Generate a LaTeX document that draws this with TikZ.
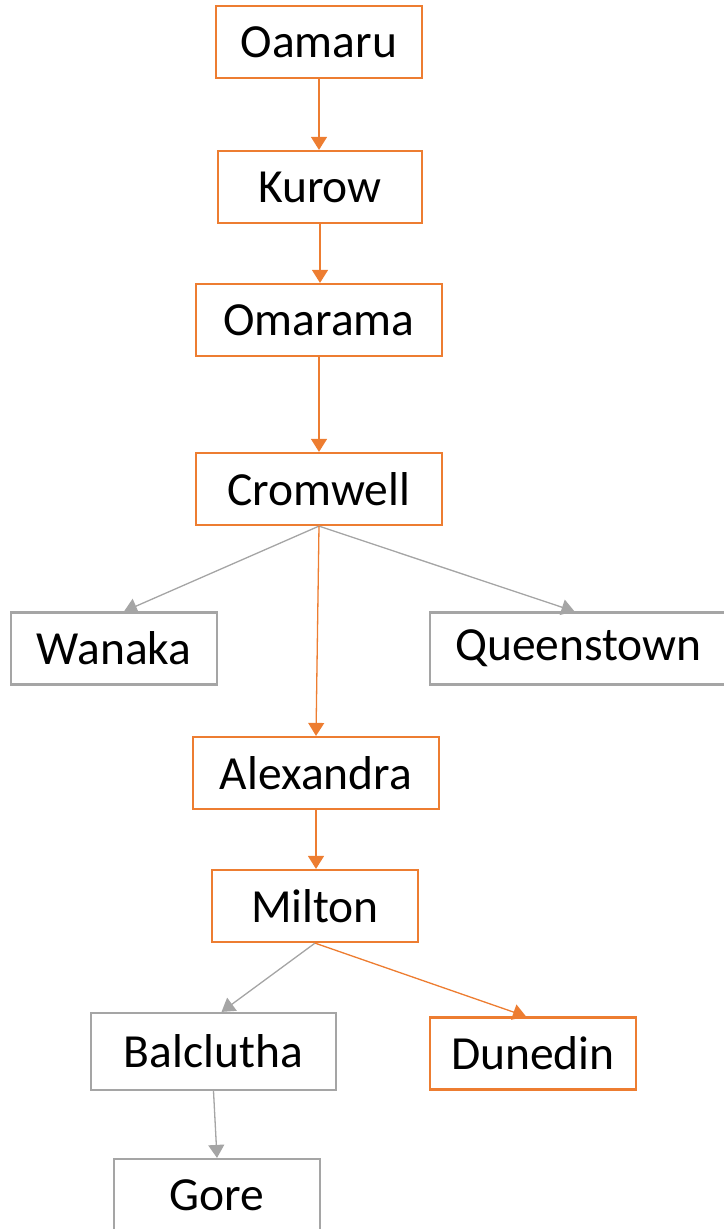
\documentclass[tikz,border=0pt]{standalone}
\usepackage{fontspec}
\setmainfont{Carlito}
\usetikzlibrary{arrows.meta,calc}
\definecolor{route}{HTML}{ED7D31}
\definecolor{side}{HTML}{A5A5A5}
\begin{document}
\begin{tikzpicture}[x=1pt,y=-1pt,
  town/.style={draw, line width=2.2pt, fill=white, inner sep=0pt,
    minimum height=72pt, font=\fontsize{47.5}{50}\selectfont},
  onroute/.style={town, draw=route},
  offroute/.style={town, draw=side},
  link/.style={line width=1.3pt, -{Triangle[width=16pt,length=13pt]}},
  mainlink/.style={link, draw=route, fill=route},
  sidelink/.style={link, draw=side, fill=side}]
\useasboundingbox (0,0) rectangle (723,1229);
% towns along the route
\node[onroute, minimum width=206pt] (oam) at (319,42) {Oamaru};
\node[onroute, minimum width=204pt] (kur) at (320,187) {Kurow};
\node[onroute, minimum width=246pt] (oma) at (319,320) {Omarama};
\node[onroute, minimum width=246pt] (cro) at (319,489) {Cromwell};
\node[onroute, minimum width=246pt] (ale) at (316,773) {Alexandra};
\node[onroute, minimum width=206pt] (mil) at (315,906) {Milton};
\node[onroute, minimum width=206pt] (dun) at (533,1053.5) {Dunedin};
% side destinations
\node[offroute, minimum width=206pt] (wan) at (114,648.5) {Wanaka};
\node[offroute, minimum width=297pt] (que) at (578.5,648.5) {Queenstown};
\node[offroute, minimum width=245pt, minimum height=77pt] (bal) at (213.5,1051.5) {Balclutha};
\node[offroute, minimum width=206pt] (gor) at (217,1195) {Gore};
% connectors
\draw[mainlink] (oam.south) -- (kur.north -| oam.south);
\draw[mainlink] (kur.south) -- (oma.north -| kur.south);
\draw[mainlink] (oma.south) -- (cro.north);
\draw[sidelink] (cro.south) -- ($(wan.north)+(10,0)$);
\draw[sidelink] (cro.south) -- ($(que.north)+(-4,0)$);
\draw[mainlink] (cro.south) -- (ale.north);
\draw[mainlink] (ale.south) -- (mil.north -| ale.south);
\draw[sidelink] (mil.south) -- ($(bal.north)+(8,0)$);
\draw[mainlink] (mil.south) -- ($(dun.north)+(-7,0)$);
\draw[sidelink] (bal.south) -- (gor.north);
\end{tikzpicture}
\end{document}
